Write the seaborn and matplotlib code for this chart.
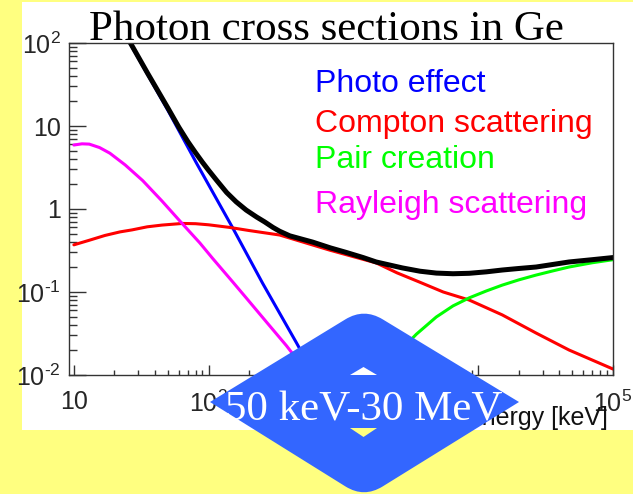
import numpy as np
import pandas as pd
import seaborn as sns
import matplotlib.pyplot as plt
from matplotlib.patches import Rectangle, Polygon, PathPatch
from matplotlib.path import Path
from matplotlib.ticker import LogLocator, NullFormatter

# valeurs (energie en keV)
E_photo = [20, 26, 50, 81, 151, 251, 449, 1000]
s_photo = [219, 100, 15.3, 3.6, 0.59, 0.128, 0.0243, 0.0023]

E_compton = [10, 13, 17, 22, 27, 35, 45, 64, 80, 100, 143, 200, 336, 500, 788, 1200,
             1750, 2500, 3655, 5500, 8577, 15070, 26900, 47200, 100000]
s_compton = [0.37, 0.42, 0.48, 0.53, 0.56, 0.61, 0.64, 0.67, 0.665, 0.645, 0.60, 0.55,
             0.486, 0.40, 0.32, 0.265, 0.224, 0.17, 0.132, 0.10, 0.080, 0.053, 0.032,
             0.020, 0.0118]

E_pair = [1022, 1100, 1500, 2000, 2830, 3475, 4886, 6500, 8577, 11500, 15070, 20000,
          26900, 36000, 47200, 70000, 100000]
s_pair = [1e-5, 2e-4, 0.003, 0.008, 0.022, 0.031, 0.050, 0.068, 0.085, 0.103, 0.121,
          0.140, 0.160, 0.18, 0.20, 0.225, 0.245]

E_rayleigh = [10, 11.5, 13, 15.5, 18.5, 24, 32.4, 45, 61, 86, 107, 151, 191, 270, 378, 1000]
s_rayleigh = [5.9, 6.1, 6.05, 5.5, 4.7, 3.4, 2.2, 1.25, 0.72, 0.39, 0.254, 0.132, 0.084,
              0.043, 0.0225, 0.0029]

E_total = [20, 26, 35, 50, 60, 70, 80, 90, 100, 115, 136, 160, 190, 227, 260, 300, 336,
           400, 500, 589, 800, 1047, 1400, 1750, 2737, 3700, 4886, 6500, 8577, 11500,
           15060, 20000, 26900, 36000, 47200, 70000, 100000]
s_total = [225, 103, 44, 16.3, 9.7, 6.5, 4.75, 3.65, 2.92, 2.2, 1.58, 1.22, 0.97, 0.80,
           0.70, 0.60, 0.54, 0.475, 0.43, 0.40, 0.34, 0.30, 0.26, 0.23, 0.195, 0.178,
           0.169, 0.166, 0.168, 0.175, 0.184, 0.192, 0.20, 0.215, 0.23, 0.245, 0.26]

legend_labels = ["Photo effect", "Compton scattering", "Pair creation", "Rayleigh scattering"]
legend_colors = ["#0000ff", "#ff0000", "#00ff00", "#ff00ff"]

xticks = [10, 1e2, 1e3, 1e4, 1e5]
xticklabels = ["10", "$10^{2}$", "$10^{3}$", "$10^{4}$", "$10^{5}$"]
yticks = [1e-2, 1e-1, 1, 10, 1e2]
yticklabels = [r"$10^{\text{-}2}$", r"$10^{\text{-}1}$", "1", "10", "$10^{2}$"]

sns.set_style("ticks")
plt.rcParams["font.family"] = ["Liberation Sans", "DejaVu Sans"]
plt.rcParams["mathtext.fontset"] = "custom"
plt.rcParams["mathtext.rm"] = "Liberation Sans"
plt.rcParams["mathtext.default"] = "regular"

W, H = 633, 494
yellow = "#ffff80"
blue_box = "#3366ff"


def fx(x):
    return x / W


def fy(y):
    return 1 - y / H


fig = plt.figure(figsize=(W / 100, H / 100), dpi=100)
fig.patch.set_facecolor(yellow)

# panneau blanc
fig.patches.append(Rectangle((fx(22), fy(430)), 1 - fx(22), fy(2) - fy(430),
                             transform=fig.transFigure, facecolor="white",
                             edgecolor="none", zorder=-1))

ax = fig.add_axes([fx(69), fy(375), fx(613) - fx(69), fy(43) - fy(375)])
ax.set_facecolor("white")

series = [
    (E_photo, s_photo, legend_colors[0], 2.2),
    (E_compton, s_compton, legend_colors[1], 2.2),
    (E_pair, s_pair, legend_colors[2], 2.2),
    (E_rayleigh, s_rayleigh, legend_colors[3], 2.2),
    (E_total, s_total, "black", 3.6),
]
for E, s, c, lw in series:
    df = pd.DataFrame({"E": E, "sigma": s})
    sns.lineplot(data=df, x="E", y="sigma", color=c, linewidth=lw, ax=ax)

ax.set_xscale("log")
ax.set_yscale("log")
ax.set_xlim(9.2, 1e5)
ax.set_ylim(1e-2, 1e2)
ax.set_xlabel("")
ax.set_ylabel("")

ax.set_xticks(xticks)
ax.set_xticklabels(xticklabels)
ax.set_yticks(yticks)
ax.set_yticklabels(yticklabels)
ax.xaxis.set_minor_locator(LogLocator(base=10, subs=np.arange(2, 10)))
ax.yaxis.set_minor_locator(LogLocator(base=10, subs=np.arange(2, 10)))
ax.xaxis.set_minor_formatter(NullFormatter())
ax.yaxis.set_minor_formatter(NullFormatter())

ax.tick_params(axis="x", which="major", direction="in", length=7, width=1,
               labelsize=18, pad=11, color="#333333")
ax.tick_params(axis="x", which="minor", direction="in", length=3.6, width=1, color="#333333")
ax.tick_params(axis="y", which="major", direction="in", length=12, width=1,
               labelsize=18, pad=6, color="#333333")
ax.tick_params(axis="y", which="minor", direction="in", length=6, width=1, color="#333333")
for sp in ax.spines.values():
    sp.set_visible(True)
    sp.set_linewidth(1)
    sp.set_color("#333333")

# titre et legende en texte
fig.text(fx(326), fy(40), "Photon cross sections in Ge", ha="center", va="baseline",
         family="Liberation Serif", fontsize=31, color="black")
baselines = [92, 132, 168, 213]
for lab, c, yb in zip(legend_labels, legend_colors, baselines):
    fig.text(fx(315), fy(yb), lab, ha="left", va="baseline", fontsize=23, color=c)

fig.text(fx(608), fy(425), "Energy [keV]", ha="right", va="baseline",
         fontsize=18, color="#111111", zorder=0.5)

# bande jaune du bas
fig.patches.append(Rectangle((0, 0), 1, fy(430), transform=fig.transFigure,
                             facecolor=yellow, edgecolor="none", zorder=1))

# losange bleu
cx, cy = 364, 402
top, bot, left, right = 308, 498, 210, 519
t = 0.12
pts = [
    (left, cy),
    (cx + t * (left - cx), top + t * (cy - top)),
    (cx, top),
    (cx + t * (right - cx), top + t * (cy - top)),
    (right, cy),
    (cx + t * (right - cx), bot + t * (cy - bot)),
    (cx, bot),
    (cx + t * (left - cx), bot + t * (cy - bot)),
    (left, cy),
]
codes = [Path.MOVETO, Path.LINETO, Path.CURVE3, Path.CURVE3, Path.LINETO,
         Path.LINETO, Path.CURVE3, Path.CURVE3, Path.CLOSEPOLY]
verts = [(fx(a), fy(b)) for a, b in pts]
fig.patches.append(PathPatch(Path(verts, codes), transform=fig.transFigure,
                             facecolor=blue_box, edgecolor="none", zorder=2))
fig.patches.append(Polygon([(fx(350), fy(375)), (fx(377), fy(375)), (fx(363.5), fy(367))],
                           closed=True, transform=fig.transFigure,
                           facecolor="white", edgecolor="none", zorder=2.5))
fig.patches.append(Polygon([(fx(350), fy(428)), (fx(377), fy(428)), (fx(363.5), fy(437))],
                           closed=True, transform=fig.transFigure,
                           facecolor=yellow, edgecolor="none", zorder=2.5))
fig.text(fx(364), fy(420), "50 keV-30 MeV", ha="center", va="baseline",
         family="Liberation Serif", fontsize=31, color="white", zorder=4)

fig.savefig("out.png", dpi=100, facecolor=fig.get_facecolor())
